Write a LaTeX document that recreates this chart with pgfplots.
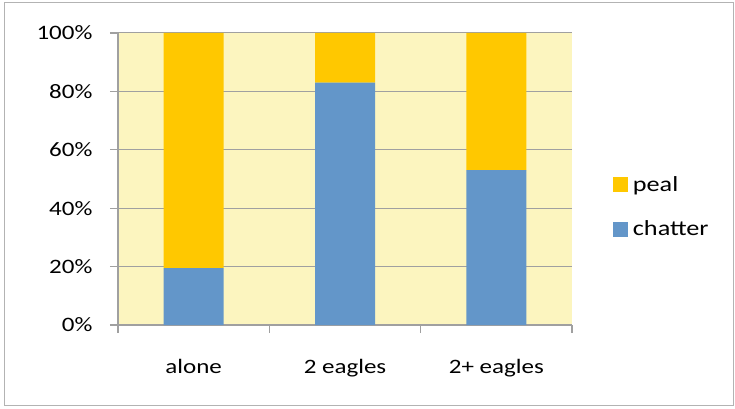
\documentclass[border=0pt]{standalone}
\usepackage{fontspec}
\setmainfont{Carlito}[FakeStretch=1.22]
\usepackage{pgfplots}
\pgfplotsset{compat=1.18}
\definecolor{bg}{HTML}{FCF5BF}
\definecolor{peal}{HTML}{FFC800}
\definecolor{chatter}{HTML}{6396C9}
\definecolor{gridc}{HTML}{A0A0A0}
\begin{document}
\begin{tikzpicture}
\useasboundingbox (0pt,0pt) rectangle (735pt,408pt);
\draw[color=gridc!80, line width=1pt] (4pt,2.5pt) rectangle (733pt,405.5pt);
\begin{axis}[at={(118pt,83pt)}, anchor=south west, scale only axis,
  width=454pt, height=292pt,
  ymin=0, ymax=100, xmin=-0.5, xmax=2.5,
  ybar stacked, bar width=60pt,
  axis background/.style={fill=bg},
  axis lines*=left,
  axis line style={gridc, line width=1.2pt},
  ytick={0,20,40,60,80,100},
  yticklabels={0\%,20\%,40\%,60\%,80\%,100\%},
  yticklabel style={xshift=-14pt},
  xtick={-0.5,0.5,1.5,2.5},
  xticklabels={,,,},
  extra x ticks={0,1,2},
  extra x tick labels={alone,2 eagles,2+ eagles},
  extra x tick style={major tick length=0pt, xticklabel style={yshift=-31pt}},
  ymajorgrids, grid style={gridc, line width=1pt},
  tick align=outside, major tick length=8pt,
  tick style={gridc, line width=1.2pt},
  ticklabel style={font=\fontsize{20.5}{24}\selectfont},
  legend style={at={(1.083,0.404)}, anchor=west, draw=none, fill=none,
    font=\fontsize{21.5}{24}\selectfont, row sep=24pt,
    /tikz/every odd column/.append style={column sep=3pt}},
  legend cell align=left,
  reverse legend,
  legend image code/.code={\fill[#1,draw=none] (0pt,-7.5pt) rectangle (15pt,7.5pt);},
]
\addplot[fill=chatter, draw=none] coordinates {(0,19.5) (1,83) (2,53)};
\addplot[fill=peal, draw=none] coordinates {(0,80.5) (1,17) (2,47)};
\legend{chatter,peal}
\end{axis}
\end{tikzpicture}
\end{document}
